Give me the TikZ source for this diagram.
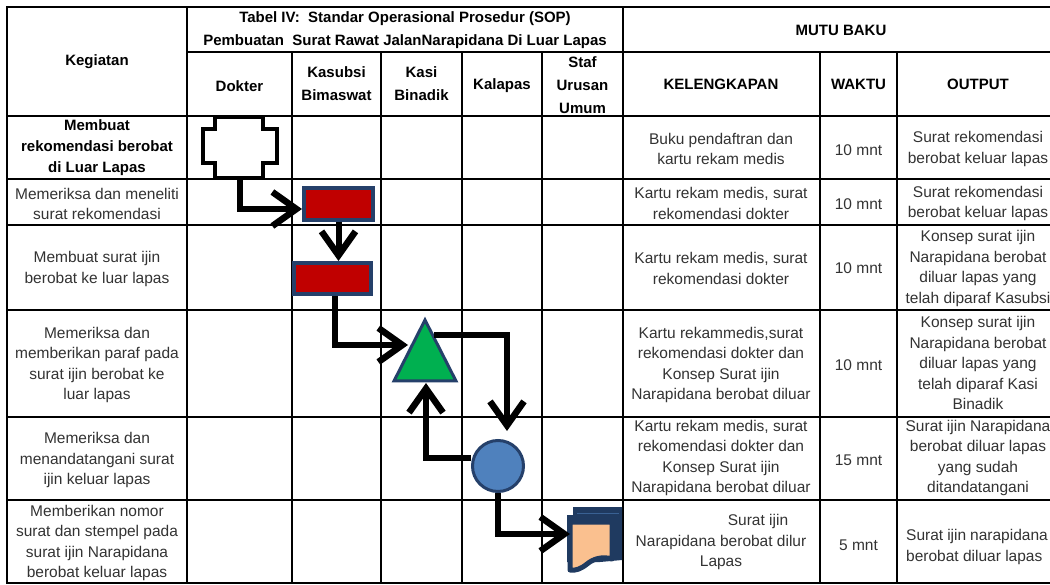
\documentclass[tikz,border=0pt]{standalone}
\usepackage{fontspec}
\setmainfont{Liberation Sans}
\usetikzlibrary{arrows.meta,calc}
\definecolor{navy}{HTML}{25406A}
\definecolor{redc}{HTML}{C00000}
\definecolor{greenc}{HTML}{00B050}
\definecolor{bluec}{HTML}{4F81BD}
\definecolor{peach}{HTML}{FAC08F}
\definecolor{docnavy}{HTML}{1F3A60}
\tikzset{
  gridline/.style={line width=1.4pt, black},
  body/.style={font=\fontsize{15.5}{20.5}\selectfont, align=center, inner sep=0pt, text=black!80},
  head/.style={font=\bfseries\fontsize{15}{23}\selectfont, align=center, inner sep=0pt},
  conn/.style={line width=6pt, black, -{Straight Barb[length=24pt,width=34pt,line width=6.5pt]}},
  redbox/.style={draw=navy, fill=redc, line width=4pt, inner sep=0pt},
  procshape/.style={draw=navy, line width=3pt},
}
\begin{document}
\begin{tikzpicture}[x=1pt,y=-1pt]
\useasboundingbox (0,0) rectangle (1050,585);
\fill[white] (0,0) rectangle (1050,585);
% ---- table grid ----
\draw[gridline] (7,7) rectangle (1059,583);
\draw[gridline] (187,7) -- (187,583);
\draw[gridline] (623,7) -- (623,583);
\draw[gridline] (187,52) -- (1059,52);
\draw[gridline] (7,116) -- (1059,116);
\foreach \xx in {292,381,462,542,820,897} {\draw[gridline] (\xx,52) -- (\xx,583);}
\foreach \yy in {179,225,310,417,500} {\draw[gridline] (7,\yy) -- (1059,\yy);}
% ---- header texts ----
\node[head] (keg) at (97,62) {Kegiatan};
\node[head] (title) at (405,30) {Tabel IV:\ \ Standar Operasional Prosedur (SOP)\\Pembuatan\ \ Surat Rawat JalanNarapidana Di Luar Lapas};
\node[head] (hdok) at (239.5,86) {Dokter};
\node[head] (hkasub) at (336.5,84) {Kasubsi\\Bimaswat};
\node[head] (hkasi) at (421.5,84) {Kasi\\Binadik};
\node[head] (hkalapas) at (502,86) {Kalapas};
\node[head] (hstaf) at (582.5,85) {Staf\\Urusan\\Umum};
\node[head] (mutu) at (841,30) {MUTU BAKU};
\node[head] (hkel) at (721,84) {KELENGKAPAN};
\node[head] (hwaktu) at (858.5,84) {WAKTU};
\node[head] (hout) at (978,84) {OUTPUT};
% ---- activity column ----
\node[head, font=\bfseries\fontsize{15}{21}\selectfont] (a1) at (97,148) {Membuat\\rekomendasi berobat\\di Luar Lapas};
\node[body] (a2) at (97,204) {Memeriksa dan meneliti\\surat rekomendasi};
\node[body] (a3) at (97,269) {Membuat surat ijin\\berobat ke luar lapas};
\node[body] (a4) at (97,365) {Memeriksa dan\\memberikan paraf pada\\surat ijin berobat ke\\luar lapas};
\node[body] (a5) at (97,460) {Memeriksa dan\\menandatangani surat\\ijin keluar lapas};
\node[body] (a6) at (97,543) {Memberikan nomor\\surat dan stempel pada\\surat ijin Narapidana\\berobat keluar lapas};
% ---- kelengkapan ----
\node[body] (k1) at (721,149) {Buku pendaftran dan\\kartu rekam medis};
\node[body] (k2) at (721,203.5) {Kartu rekam medis, surat\\rekomendasi dokter};
\node[body] (k3) at (721,268.5) {Kartu rekam medis, surat\\rekomendasi dokter};
\node[body] (k4) at (721,365) {Kartu rekammedis,surat\\rekomendasi dokter dan\\Konsep Surat ijin\\Narapidana berobat diluar};
\node[body] (k5) at (721,458) {Kartu rekam medis, surat\\rekomendasi dokter dan\\Konsep Surat ijin\\Narapidana berobat diluar};
\node[body] (k6) at (721,542) {\hspace*{74pt}Surat ijin\\Narapidana berobat dilur\\Lapas};
% ---- waktu ----
\node[body] (w1) at (858.5,150) {10 mnt};
\node[body] (w2) at (858.5,204) {10 mnt};
\node[body] (w3) at (858.5,268) {10 mnt};
\node[body] (w4) at (858.5,365) {10 mnt};
\node[body] (w5) at (858.5,460) {15 mnt};
\node[body] (w6) at (858.5,545) {5 mnt};
% ---- output ----
\node[body] (o1) at (978,149) {Surat rekomendasi\\berobat keluar lapas};
\node[body] (o2) at (978,203.5) {Surat rekomendasi\\berobat keluar lapas};
\node[body] (o3) at (978,268.5) {Konsep surat ijin\\Narapidana berobat\\diluar lapas yang\\telah diparaf Kasubsi};
\node[body] (o4) at (978,363) {Konsep surat ijin\\Narapidana berobat\\diluar lapas yang\\telah diparaf Kasi\\Binadik};
\node[body] (o5) at (978,458) {Surat ijin Narapidana\\berobat diluar lapas\\yang sudah\\ditandatangani};
\node[body, align=left, anchor=west] (o6) at (906,547) {Surat\hspace{4pt}ijin\hspace{4pt}narapidana\\berobat diluar lapas};
% ---- flow shapes ----
\draw[black, line width=4.5pt, fill=white, line join=miter]
  (215,117) -- (263,117) -- (263,129) -- (277,129) -- (277,163) -- (263,163)
  -- (263,178) -- (215,178) -- (215,163) -- (203,163) -- (203,129) -- (215,129) -- cycle;
\coordinate (crossB) at (240,178);
\node[redbox, minimum width=69pt, minimum height=32pt] (r1) at (338.5,204) {};
\node[redbox, minimum width=77pt, minimum height=31pt] (r2) at (332.5,278.5) {};
\draw[procshape, fill=greenc, line join=miter] (425,320) -- (456,381) -- (394,381) -- cycle;
\coordinate (triL) at (408,345);
\coordinate (triR) at (434,335);
\coordinate (triB) at (426,383);
\node[circle, draw=navy, fill=bluec, line width=3pt, minimum size=51pt, inner sep=0pt] (circ) at (498,466) {};
\coordinate (cW) at (471,458);
% document shape
\fill[docnavy] (573,507) -- (622,507) -- (622,560) -- (600,562) -- (567,562) -- (567,515) -- (573,515) -- cycle;
\draw[bluec!55!docnavy, line width=1pt] (577,513) -- (619,513);
\draw[docnavy, line width=5pt, fill=peach, line join=round]
  (570,522) -- (612,522) -- (612,559) .. controls (602,556) and (593,559) .. (587,564)
  .. controls (581,569) and (575,571) .. (570,570) -- cycle;
\coordinate (docL) at (570,534);
% ---- connectors ----
\draw[conn] (crossB) |- ([yshift=-5pt]r1.west);
\draw[conn] (r1.south) -- (r1.south |- r2.north);
\draw[conn] ([xshift=2pt]r2.south) |- (triL);
\draw[conn] (triR) -| ($(circ.north)+(9,-8)$);
\draw[conn] (cW) -| (triB);
\draw[conn] (circ.south) |- (docL);
\end{tikzpicture}
\end{document}
